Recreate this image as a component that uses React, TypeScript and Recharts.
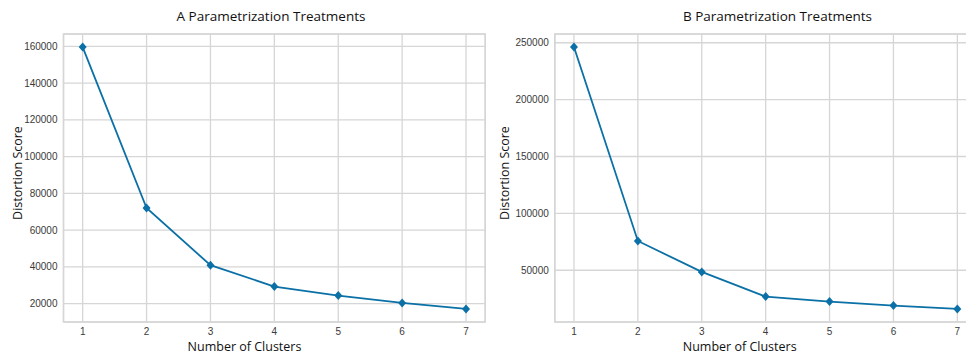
import { LineChart, Line, XAxis, YAxis, CartesianGrid, ReferenceArea } from 'recharts'

const clusters = [1, 2, 3, 4, 5, 6, 7]
const distortionA = [159600, 72000, 40850, 29260, 24350, 20330, 17070]
const distortionB = [246200, 75750, 48510, 26810, 22420, 18900, 16000]
const ticksA = [20000, 40000, 60000, 80000, 100000, 120000, 140000, 160000]
const ticksB = [50000, 100000, 150000, 200000, 250000]
const xTicks = [1, 2, 3, 4, 5, 6, 7]

const BLUE = '#0a70a6'
const GRID = '#d6d6d6'
const TICK_FONT = '"Liberation Sans", Arial, sans-serif'
const LABEL_FONT = '"Open Sans", sans-serif'

const Diamond = (props: any) => {
  const { cx, cy } = props
  if (cx == null || cy == null) return null
  return <polygon points={`${cx},${cy - 4.5} ${cx + 4},${cy} ${cx},${cy + 4.5} ${cx - 4},${cy}`} fill={BLUE} />
}

// matplotlib style 5% margins around the data
function pad(vals: number[]): [number, number] {
  const lo = Math.min(...vals)
  const hi = Math.max(...vals)
  const m = (hi - lo) * 0.05
  return [lo - m, hi + m]
}

function Panel({ values, ticks, width, yWidth, right }: { values: number[]; ticks: number[]; width: number; yWidth: number; right: number }) {
  const data = clusters.map((k, i) => ({ k, v: values[i] }))
  const [lo, hi] = pad(values)
  return (
    <LineChart width={width} height={353} data={data} margin={{ top: 34, right, bottom: 0, left: 0 }}>
      <CartesianGrid stroke={GRID} strokeWidth={1.3} fill="#fff" />
      <XAxis
        dataKey="k"
        type="number"
        domain={[0.7, 7.3]}
        ticks={xTicks}
        height={31}
        axisLine={false}
        tickLine={false}
        tickSize={0}
        tickMargin={6}
        tick={{ fontSize: 10, fill: '#3a3a3a', fontFamily: TICK_FONT }}
      />
      <YAxis
        type="number"
        domain={[lo, hi]}
        ticks={ticks}
        width={yWidth}
        axisLine={false}
        tickLine={false}
        tickSize={0}
        tickMargin={6}
        tick={{ fontSize: 10, fill: '#3a3a3a', fontFamily: TICK_FONT }}
      />
      <ReferenceArea x1={0.7} x2={7.3} y1={lo} y2={hi} fill="none" stroke={GRID} strokeWidth={1.5} ifOverflow="visible" />
      <Line dataKey="v" stroke={BLUE} strokeWidth={1.8} dot={<Diamond />} activeDot={false} isAnimationActive={false} />
    </LineChart>
  )
}

const text = (x: number, y: number, s: string, size: number, rotate = false) => (
  <div
    style={{
      position: 'absolute',
      left: x,
      top: y,
      transform: `translate(-50%, -50%)${rotate ? ' rotate(-90deg)' : ''}`,
      fontFamily: LABEL_FONT,
      fontSize: size,
      color: '#111',
      whiteSpace: 'nowrap',
    }}
  >
    {s}
  </div>
)

export default function App() {
  return (
    <div style={{ position: 'fixed', left: 0, top: 0, width: 966, height: 353, overflow: 'hidden', background: '#fff' }}>
      <div style={{ position: 'absolute', left: 0, top: 0 }}>
        <Panel values={distortionA} ticks={ticksA} width={490} yWidth={63.5} right={4.8} />
      </div>
      <div style={{ position: 'absolute', left: 490, top: 0 }}>
        <Panel values={distortionB} ticks={ticksB} width={500} yWidth={64.8} right={13.5} />
      </div>
      {text(271, 16, 'A Parametrization Treatments', 13.5)}
      {text(777.5, 16, 'B Parametrization Treatments', 13.5)}
      {text(16.7, 173, 'Distortion Score', 12.5, true)}
      {text(504.3, 173, 'Distortion Score', 12.5, true)}
      {text(244.5, 346, 'Number of Clusters', 12.5)}
      {text(739.7, 346, 'Number of Clusters', 12.5)}
    </div>
  )
}
